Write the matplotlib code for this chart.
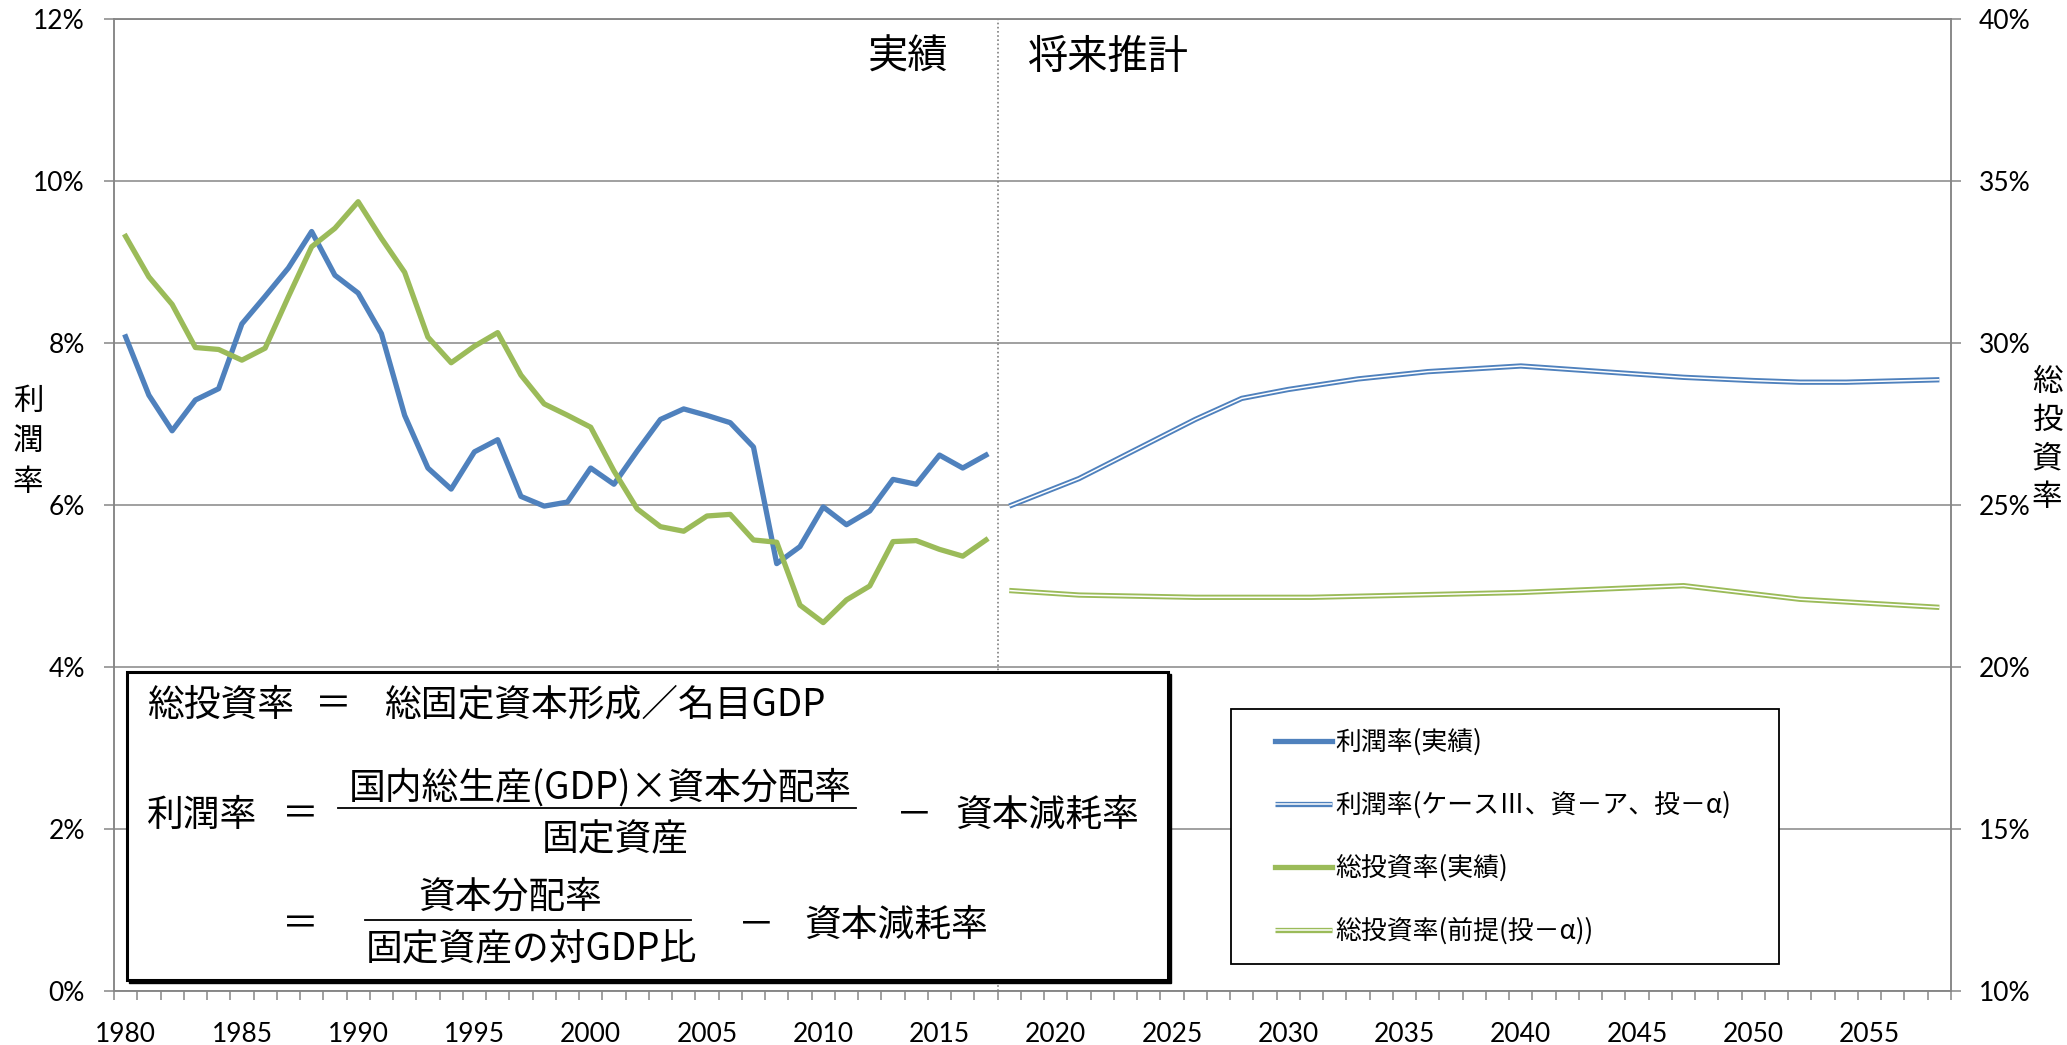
import numpy as np
import matplotlib
matplotlib.use("Agg")
import matplotlib.pyplot as plt
import matplotlib.patheffects as pe
from matplotlib.patches import Rectangle
from matplotlib.lines import Line2D

plt.rcParams['font.family'] = ['Lato', 'Noto Sans CJK JP', 'DejaVu Sans']
JP = ['Noto Sans CJK JP', 'DejaVu Sans']

# ---- data ----
years_act = list(range(1980, 2018))
profit_act = [8.08, 7.36, 6.92, 7.30, 7.44, 8.24, 8.58, 8.93, 9.38, 8.84,
              8.62, 8.12, 7.11, 6.46, 6.20, 6.66, 6.81, 6.11, 5.99, 6.04,
              6.46, 6.26, 6.67, 7.06, 7.19, 7.11, 7.02, 6.72, 5.28, 5.49,
              5.98, 5.76, 5.93, 6.32, 6.26, 6.62, 6.46, 6.62]
invest_act = [33.30, 32.05, 31.20, 29.87, 29.81, 29.48, 29.85, 31.44, 32.98, 33.55,
              34.37, 33.24, 32.19, 30.19, 29.40, 29.91, 30.33, 29.02, 28.13, 27.78,
              27.41, 26.06, 24.89, 24.34, 24.20, 24.67, 24.72, 23.93, 23.86, 21.92,
              21.38, 22.08, 22.51, 23.88, 23.91, 23.64, 23.43, 23.93]

profit_proj_years = [2018, 2021, 2026, 2028, 2030, 2033, 2036, 2040, 2047, 2050, 2052, 2054, 2058]
profit_proj = [5.99, 6.33, 7.06, 7.32, 7.43, 7.56, 7.65, 7.72, 7.58, 7.54, 7.52, 7.52, 7.55]
invest_proj_years = [2018, 2021, 2026, 2031, 2040, 2047, 2052, 2058]
invest_proj = [22.37, 22.23, 22.16, 22.16, 22.31, 22.52, 22.10, 21.85]

labels = ['利潤率(実績)', '利潤率(ケースⅢ、資－ア、投－α)',
          '総投資率(実績)', '総投資率(前提(投－α))']
left_ticks = [0, 2, 4, 6, 8, 10, 12]
right_ticks = [10, 15, 20, 25, 30, 35, 40]
year_ticks = list(range(1980, 2056, 5))

blue = '#4F81BD'
green = '#9BBB59'
gray = '#868686'

W, H = 2067, 1045
fig = plt.figure(figsize=(W / 100, H / 100), dpi=100)


def px(x, y):
    return x / W, 1 - y / H


ax = fig.add_axes([114 / W, 1 - 991.3 / H, (1951 - 114) / W, (991.3 - 19.3) / H])
ax2 = ax.twinx()

l1, = ax.plot(years_act, profit_act, color=blue, lw=3.8, solid_joinstyle='round')
l2, = ax.plot(profit_proj_years, profit_proj, color='white', lw=1.1, solid_capstyle='butt',
              path_effects=[pe.Stroke(linewidth=3.8, foreground=blue), pe.Normal()])
l3, = ax2.plot(years_act, invest_act, color=green, lw=3.8, solid_joinstyle='round')
l4, = ax2.plot(invest_proj_years, invest_proj, color='white', lw=1.1, solid_capstyle='butt',
               path_effects=[pe.Stroke(linewidth=3.8, foreground=green), pe.Normal()])

ax.axvline(2017.5, color='#7f7f7f', ls=(0, (1, 1.5)), lw=1.2)

ax.set_xlim(1979.5, 2058.5)
ax.set_ylim(0, 12)
ax2.set_ylim(10, 40)

ax.set_yticks(left_ticks)
ax.set_yticklabels([f'{v}%' for v in left_ticks])
ax2.set_yticks(right_ticks)
ax2.set_yticklabels([f'{v}%' for v in right_ticks])
ax.set_xticks(year_ticks)
ax.set_xticklabels([str(y) for y in year_ticks])
ax.set_xticks(np.arange(1979.5, 2058.6, 1), minor=True)

ax.yaxis.grid(True, color=gray, lw=1.1)
ax.set_axisbelow(True)
for a in (ax, ax2):
    for s in a.spines.values():
        s.set_color(gray)
        s.set_linewidth(1.1)

ax.tick_params(axis='y', length=7, width=1.1, color=gray, labelsize=19, pad=14)
ax2.tick_params(axis='y', length=7, width=1.1, color=gray, labelsize=19, pad=13)
ax.tick_params(axis='x', which='major', length=0, labelsize=19, pad=22)
ax.tick_params(axis='x', which='minor', length=6.5, width=1.1, color=gray)

# axis titles (stacked vertically)
fig.text(*px(28, 442), '利\n潤\n率', family=JP, fontsize=22, ha='center', va='center',
         linespacing=1.38)
fig.text(*px(2047, 440), '総\n投\n資\n率', family=JP, fontsize=22, ha='center', va='center',
         linespacing=1.3)

# period labels
fig.text(*px(948, 57), '実績', family=JP, fontsize=29, ha='right', va='center')
fig.text(*px(1028, 57), '将来推計', family=JP, fontsize=29, ha='left', va='center')

# formula box
x0, y0 = px(126.5, 980)
x1, y1 = px(1168, 671.7)
sx, sy = 2.5 / W, 2.5 / H
fig.add_artist(Rectangle((x0 + sx, y0 - sy), x1 - x0, y1 - y0, transform=fig.transFigure,
                         facecolor='black', edgecolor='black', lw=1, zorder=3.9))
fig.add_artist(Rectangle((x0, y0), x1 - x0, y1 - y0, transform=fig.transFigure,
                         facecolor='white', edgecolor='black', lw=2.2, zorder=4))

fs = 26.5
fig.text(*px(147, 705), '総投資率', family=JP, fontsize=fs, ha='left', va='center', zorder=5)
fig.text(*px(333, 705), '＝', family=JP, fontsize=fs, ha='center', va='center', zorder=5)
fig.text(*px(384, 705), '総固定資本形成／名目GDP', family=JP, fontsize=fs, ha='left',
         va='center', zorder=5)

fig.text(*px(147, 815), '利潤率', family=JP, fontsize=fs, ha='left', va='center', zorder=5)
fig.text(*px(300, 815), '＝', family=JP, fontsize=fs, ha='center', va='center', zorder=5)
fig.text(*px(600, 788), '国内総生産(GDP)×資本分配率', family=JP, fontsize=fs, ha='center',
         va='center', zorder=5)
fig.add_artist(Line2D([px(338, 0)[0], px(856, 0)[0]], [px(0, 808)[1]] * 2,
                      transform=fig.transFigure, color='black', lw=1.3, zorder=5))
fig.text(*px(615, 840), '固定資産', family=JP, fontsize=fs, ha='center', va='center', zorder=5)
fig.text(*px(914, 815), '－', family=JP, fontsize=fs, ha='center', va='center', zorder=5)
fig.text(*px(1047, 815), '資本減耗率', family=JP, fontsize=fs, ha='center', va='center', zorder=5)

fig.text(*px(300, 925), '＝', family=JP, fontsize=fs, ha='center', va='center', zorder=5)
fig.text(*px(510, 897), '資本分配率', family=JP, fontsize=fs, ha='center', va='center', zorder=5)
fig.add_artist(Line2D([px(365, 0)[0], px(691, 0)[0]], [px(0, 920)[1]] * 2,
                      transform=fig.transFigure, color='black', lw=1.3, zorder=5))
fig.text(*px(531, 950), '固定資産の対GDP比', family=JP, fontsize=fs, ha='center', va='center',
         zorder=5)
fig.text(*px(756, 925), '－', family=JP, fontsize=fs, ha='center', va='center', zorder=5)
fig.text(*px(896, 925), '資本減耗率', family=JP, fontsize=fs, ha='center', va='center', zorder=5)

# legend: frame drawn separately, entries placed inside it
lx0, ly0 = px(1231, 964.3)
lx1, ly1 = px(1778.6, 709.3)
fig.add_artist(Rectangle((lx0, ly0), lx1 - lx0, ly1 - ly0, transform=fig.transFigure,
                         facecolor='white', edgecolor='black', lw=1.3, zorder=4))
leg = fig.legend([l1, l2, l3, l4], labels, loc='center left',
                 bbox_to_anchor=px(1275, 837), bbox_transform=fig.transFigure,
                 prop={'family': JP, 'size': 18.6}, frameon=False,
                 handlelength=2.2, handletextpad=0.12,
                 borderpad=0, labelspacing=1.38, borderaxespad=0)
leg.set_zorder(6)

fig.savefig('out.png', dpi=100)
